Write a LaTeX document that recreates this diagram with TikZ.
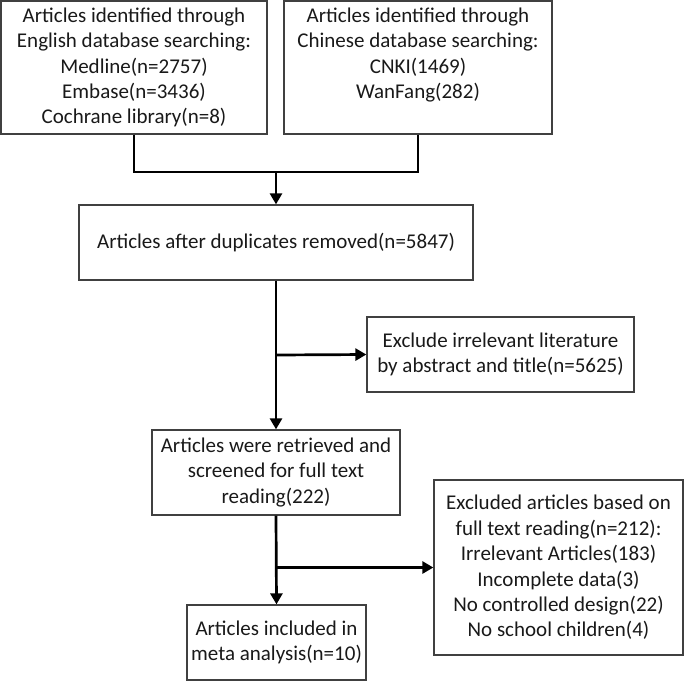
\documentclass[tikz,border=0pt]{standalone}
\usepackage{fontspec}
\setmainfont{Carlito}
\usetikzlibrary{arrows.meta}
\begin{document}
\begin{tikzpicture}[x=1pt,y=-1pt,
  box/.style={draw=black!75, line width=1.3pt, inner sep=0pt, align=center,
    font=\fontsize{21}{25.4}\selectfont, text=black!90},
  conn/.style={line width=2.7pt, black},
  arr/.style={conn, -{Triangle[length=11pt,width=12pt]}}]
\useasboundingbox (0,0) rectangle (685,681);
\node[box, minimum width=266pt, minimum height=133pt] (b1) at (134,67.5)
  {Articles identified through\\English database searching:\\Medline(n=2757)\\Embase(n=3436)\\Cochrane library(n=8)};
\node[box, minimum width=268pt, minimum height=133pt] (b2) at (418,67.5)
  {Articles identified through\\Chinese database searching:\\CNKI(1469)\\WanFang(282)\\ \phantom{Cochrane library(n=8)}};
\node[box, minimum width=394pt, minimum height=75pt] (b3) at (276,242.5)
  {Articles after duplicates removed(n=5847)};
\node[box, minimum width=267pt, minimum height=75pt] (b4) at (500.5,354.5)
  {Exclude irrelevant literature\\by abstract and title(n=5625)};
\node[box, minimum width=248pt, minimum height=85pt] (b5) at (276,472.5)
  {Articles were retrieved and\\screened for full text\\reading(222)};
\node[box, minimum width=249pt, minimum height=175pt] (b6) at (558.5,567.5)
  {Excluded articles based on\\full text reading(n=212):\\Irrelevant Articles(183)\\Incomplete data(3)\\No controlled design(22)\\No school children(4)};
\node[box, minimum width=179pt, minimum height=75pt] (b7) at (276.5,642.5)
  {Articles included in\\meta analysis(n=10)};
\coordinate (j1) at (276,172);
\coordinate (j2) at (276,355);
\coordinate (j3) at (276,567.5);
\draw[conn] (b1.south) |- (j1);
\draw[conn] (b2.south) |- (j1);
\draw[arr] (j1) -- (b3.north);
\draw[arr] (b3.south) -- (b5.north);
\draw[arr] (j2) -- (b4.west);
\draw[arr] (b5.south) -- (b7.north);
\draw[arr] (j3) -- (b6.west);
\end{tikzpicture}
\end{document}
